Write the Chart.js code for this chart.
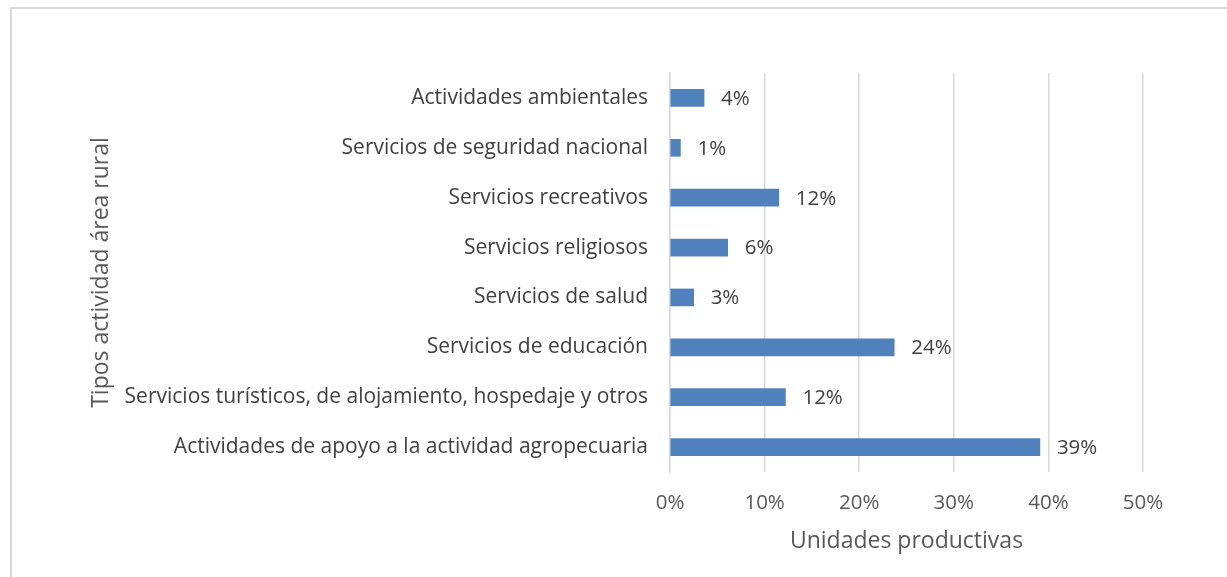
<!DOCTYPE html>
<html>
<head>
<meta charset="utf-8">
<script src="https://cdn.jsdelivr.net/npm/chart.js@4.4.1/dist/chart.umd.min.js"></script>
<style>
  html, body { margin: 0; padding: 0; background: #fff; }
  #wrap { position: relative; width: 1227px; height: 577px; }
  #frame {
    position: absolute; left: 10px; top: 7px; right: 0; bottom: 0;
    border-left: 2px solid #d9d9d9; border-top: 2px solid #d9d9d9;
    pointer-events: none;
  }
  canvas { position: absolute; left: 0; top: 0; }
</style>
</head>
<body>
<div id="wrap">
  <canvas id="chart" width="1227" height="577"></canvas>
  <div id="frame"></div>
</div>
<script>
// data
var categories = [
  "Actividades ambientales",
  "Servicios de seguridad nacional",
  "Servicios recreativos",
  "Servicios religiosos",
  "Servicios de salud",
  "Servicios de educación",
  "Servicios turísticos, de alojamiento, hospedaje y otros",
  "Actividades de apoyo a la actividad agropecuaria"
];
var shares = [3.6, 1.1, 11.5, 6.1, 2.5, 23.7, 12.2, 39.1];
var xTicks = [0, 10, 20, 30, 40, 50];

var FONT = "'Open Sans', sans-serif";

// labels at the end of each bar
var barLabels = {
  id: 'barLabels',
  afterDatasetsDraw: function (chart) {
    var ctx = chart.ctx;
    var meta = chart.getDatasetMeta(0);
    ctx.save();
    ctx.font = "20.5px " + FONT;
    ctx.fillStyle = "#404040";
    ctx.textAlign = "left";
    ctx.textBaseline = "middle";
    meta.data.forEach(function (bar, i) {
      ctx.fillText(Math.round(shares[i]) + "%", bar.x + 17, bar.y + 1);
    });
    ctx.restore();
  }
};

new Chart(document.getElementById("chart"), {
  type: 'bar',
  data: {
    labels: categories,
    datasets: [{
      data: shares,
      backgroundColor: "#4f81bd",
      borderWidth: 0,
      barThickness: 17
    }]
  },
  options: {
    indexAxis: 'y',
    responsive: false,
    animation: false,
    layout: { padding: { top: 73, right: 84, left: 0, bottom: 0 } },
    plugins: { legend: { display: false }, tooltip: { enabled: false } },
    scales: {
      x: {
        min: 0, max: 50,
        afterBuildTicks: function (scale) {
          scale.ticks = xTicks.map(function (v) { return { value: v }; });
        },
        afterFit: function (scale) { scale.height = 105; },
        grid: { color: "#d9d9d9", lineWidth: 1.5, drawTicks: false },
        border: { display: false },
        ticks: {
          padding: 19,
          color: "#595959",
          font: { family: FONT, size: 20.5 },
          callback: function (v) { return v + "%"; }
        },
        title: {
          display: true,
          text: "Unidades productivas",
          color: "#595959",
          font: { family: FONT, size: 23 },
          padding: { top: 0, bottom: 22 }
        }
      },
      y: {
        afterFit: function (scale) { scale.width = 670; },
        grid: { display: false, drawTicks: false },
        border: { display: true, color: "#d9d9d9", width: 1.5 },
        ticks: {
          padding: 22,
          color: "#404040",
          font: { family: FONT, size: 21 }
        },
        title: {
          display: true,
          text: "Tipos actividad área rural",
          color: "#595959",
          font: { family: FONT, size: 23 },
          padding: { top: 88, bottom: 0 }
        }
      }
    }
  },
  plugins: [barLabels]
});
</script>
</body>
</html>
